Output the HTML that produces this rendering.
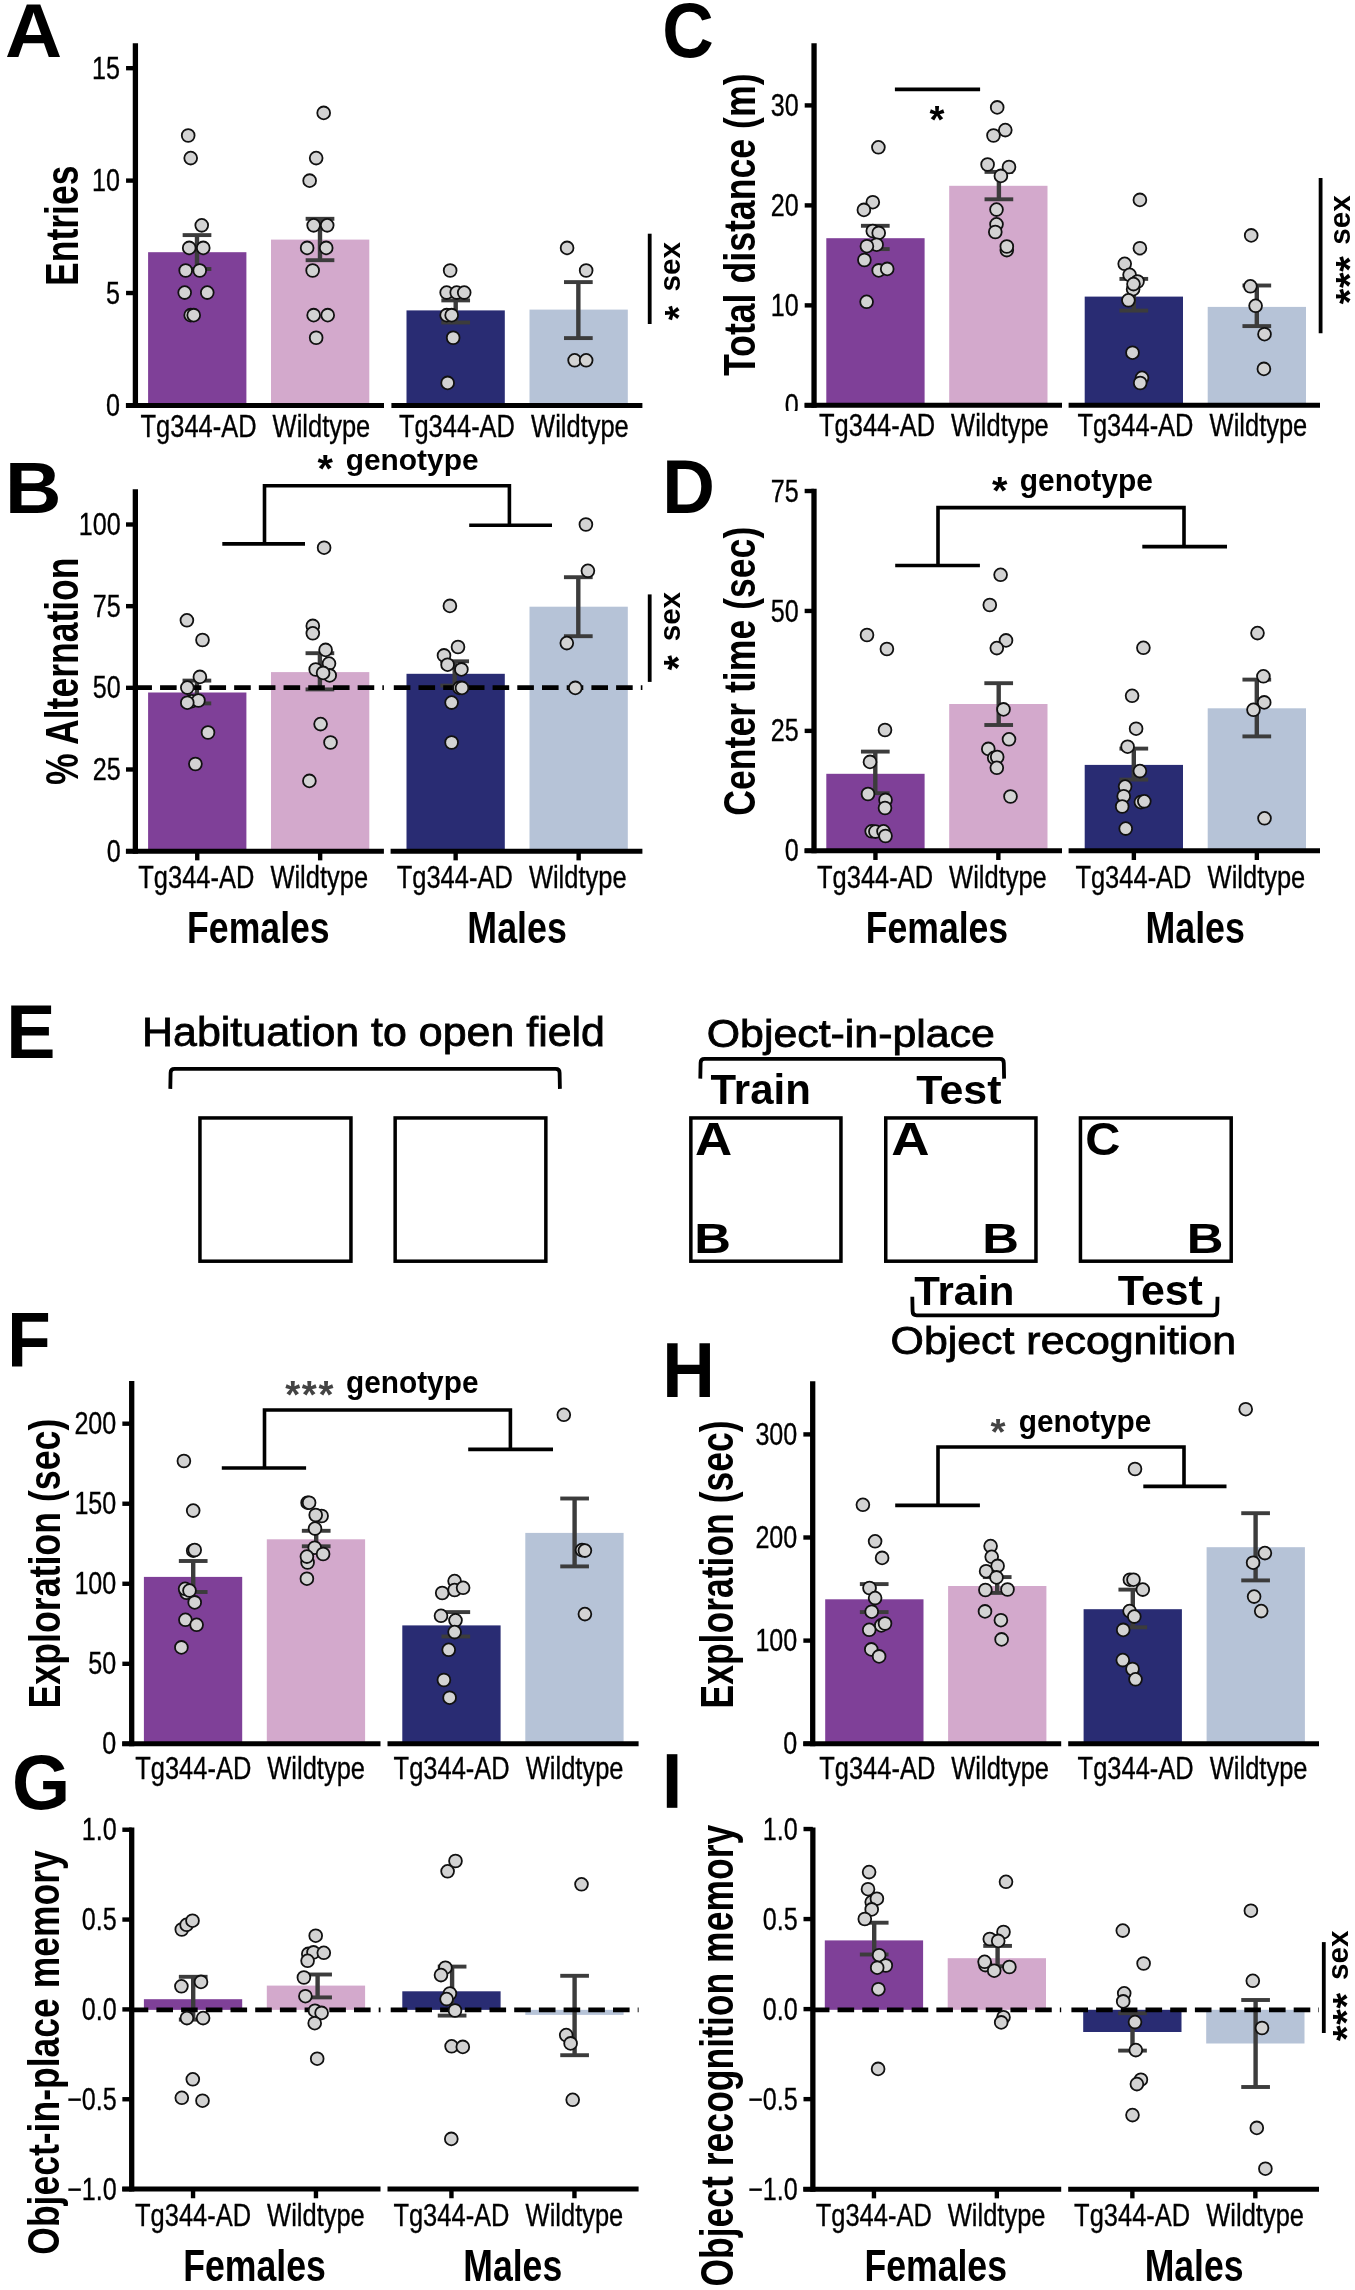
<!DOCTYPE html>
<html><head><meta charset="utf-8"><style>
html,body{margin:0;padding:0;background:#fff;}
svg{display:block;will-change:transform;font-family:"Liberation Sans", sans-serif;}
</style></head><body>
<svg width="1355" height="2290" viewBox="0 0 1355 2290">
<rect width="1355" height="2290" fill="#fff"/>
<rect x="148.1" y="252.2" width="98.3" height="153.25" fill="#7f4098"/>
<rect x="271" y="239.6" width="98.3" height="165.85" fill="#d3a9cc"/>
<rect x="406.5" y="310.4" width="98.3" height="95.05" fill="#292c73"/>
<rect x="529.5" y="309.6" width="98.3" height="95.85" fill="#b6c3d7"/>
<line x1="135.4" y1="43.2" x2="135.4" y2="407.95" stroke="#000" stroke-width="5.3" />
<line x1="125.9" y1="405.45" x2="384" y2="405.45" stroke="#000" stroke-width="5.0" />
<line x1="391.4" y1="405.45" x2="642.4" y2="405.45" stroke="#000" stroke-width="5.0" />
<line x1="126.05" y1="68.18" x2="135.4" y2="68.18" stroke="#000" stroke-width="4.4" />
<line x1="126.05" y1="180.6" x2="135.4" y2="180.6" stroke="#000" stroke-width="4.4" />
<line x1="126.05" y1="293.02" x2="135.4" y2="293.02" stroke="#000" stroke-width="4.4" />
<line x1="126.05" y1="405.45" x2="135.4" y2="405.45" stroke="#000" stroke-width="4.4" />
<line x1="197" y1="235.1" x2="197" y2="269" stroke="#3c3c3c" stroke-width="4.4" />
<line x1="182.65" y1="235.1" x2="211.35" y2="235.1" stroke="#3c3c3c" stroke-width="3.9" />
<line x1="182.65" y1="269" x2="211.35" y2="269" stroke="#3c3c3c" stroke-width="3.9" />
<line x1="320" y1="218.8" x2="320" y2="260.2" stroke="#3c3c3c" stroke-width="4.4" />
<line x1="305.65" y1="218.8" x2="334.35" y2="218.8" stroke="#3c3c3c" stroke-width="3.9" />
<line x1="305.65" y1="260.2" x2="334.35" y2="260.2" stroke="#3c3c3c" stroke-width="3.9" />
<line x1="455.7" y1="300.4" x2="455.7" y2="322.5" stroke="#3c3c3c" stroke-width="4.4" />
<line x1="441.35" y1="300.4" x2="470.05" y2="300.4" stroke="#3c3c3c" stroke-width="3.9" />
<line x1="441.35" y1="322.5" x2="470.05" y2="322.5" stroke="#3c3c3c" stroke-width="3.9" />
<line x1="578.35" y1="282.1" x2="578.35" y2="338.1" stroke="#3c3c3c" stroke-width="4.4" />
<line x1="564" y1="282.1" x2="592.7" y2="282.1" stroke="#3c3c3c" stroke-width="3.9" />
<line x1="564" y1="338.1" x2="592.7" y2="338.1" stroke="#3c3c3c" stroke-width="3.9" />
<circle cx="188.19" cy="135.5" r="6.4" fill="#d3d3d3" stroke="#111" stroke-width="1.8"/>
<circle cx="190.7" cy="158.08" r="6.4" fill="#d3d3d3" stroke="#111" stroke-width="1.8"/>
<circle cx="201.74" cy="225.33" r="6.4" fill="#d3d3d3" stroke="#111" stroke-width="1.8"/>
<circle cx="189.2" cy="247.91" r="6.4" fill="#d3d3d3" stroke="#111" stroke-width="1.8"/>
<circle cx="203.25" cy="247.91" r="6.4" fill="#d3d3d3" stroke="#111" stroke-width="1.8"/>
<circle cx="185.68" cy="270.49" r="6.4" fill="#d3d3d3" stroke="#111" stroke-width="1.8"/>
<circle cx="199.73" cy="270.49" r="6.4" fill="#d3d3d3" stroke="#111" stroke-width="1.8"/>
<circle cx="184.68" cy="292.58" r="6.4" fill="#d3d3d3" stroke="#111" stroke-width="1.8"/>
<circle cx="207.26" cy="292.58" r="6.4" fill="#d3d3d3" stroke="#111" stroke-width="1.8"/>
<circle cx="190.7" cy="315.16" r="6.4" fill="#d3d3d3" stroke="#111" stroke-width="1.8"/>
<circle cx="193.71" cy="315.16" r="6.4" fill="#d3d3d3" stroke="#111" stroke-width="1.8"/>
<circle cx="323.69" cy="112.92" r="6.4" fill="#d3d3d3" stroke="#111" stroke-width="1.8"/>
<circle cx="316.16" cy="158.08" r="6.4" fill="#d3d3d3" stroke="#111" stroke-width="1.8"/>
<circle cx="309.64" cy="180.66" r="6.4" fill="#d3d3d3" stroke="#111" stroke-width="1.8"/>
<circle cx="313.65" cy="225.33" r="6.4" fill="#d3d3d3" stroke="#111" stroke-width="1.8"/>
<circle cx="327.2" cy="225.33" r="6.4" fill="#d3d3d3" stroke="#111" stroke-width="1.8"/>
<circle cx="307.13" cy="247.91" r="6.4" fill="#d3d3d3" stroke="#111" stroke-width="1.8"/>
<circle cx="326.2" cy="247.91" r="6.4" fill="#d3d3d3" stroke="#111" stroke-width="1.8"/>
<circle cx="312.65" cy="270.49" r="6.4" fill="#d3d3d3" stroke="#111" stroke-width="1.8"/>
<circle cx="313.65" cy="315.16" r="6.4" fill="#d3d3d3" stroke="#111" stroke-width="1.8"/>
<circle cx="327.7" cy="315.16" r="6.4" fill="#d3d3d3" stroke="#111" stroke-width="1.8"/>
<circle cx="316.16" cy="337.74" r="6.4" fill="#d3d3d3" stroke="#111" stroke-width="1.8"/>
<circle cx="450.15" cy="270.49" r="6.4" fill="#d3d3d3" stroke="#111" stroke-width="1.8"/>
<circle cx="446.64" cy="292.58" r="6.4" fill="#d3d3d3" stroke="#111" stroke-width="1.8"/>
<circle cx="456.68" cy="292.58" r="6.4" fill="#d3d3d3" stroke="#111" stroke-width="1.8"/>
<circle cx="464.21" cy="292.58" r="6.4" fill="#d3d3d3" stroke="#111" stroke-width="1.8"/>
<circle cx="446.64" cy="315.16" r="6.4" fill="#d3d3d3" stroke="#111" stroke-width="1.8"/>
<circle cx="451.66" cy="315.16" r="6.4" fill="#d3d3d3" stroke="#111" stroke-width="1.8"/>
<circle cx="453.17" cy="337.74" r="6.4" fill="#d3d3d3" stroke="#111" stroke-width="1.8"/>
<circle cx="447.65" cy="382.91" r="6.4" fill="#d3d3d3" stroke="#111" stroke-width="1.8"/>
<circle cx="567.08" cy="247.91" r="6.4" fill="#d3d3d3" stroke="#111" stroke-width="1.8"/>
<circle cx="586.15" cy="270.49" r="6.4" fill="#d3d3d3" stroke="#111" stroke-width="1.8"/>
<circle cx="574.61" cy="360.32" r="6.4" fill="#d3d3d3" stroke="#111" stroke-width="1.8"/>
<circle cx="586.15" cy="360.32" r="6.4" fill="#d3d3d3" stroke="#111" stroke-width="1.8"/>
<text transform="translate(120,78.76) scale(0.7950,1)" font-size="31.60" font-weight="normal" text-anchor="end" fill="#000" stroke="#000" stroke-width="0.35">15</text>
<text transform="translate(120,191.19) scale(0.7950,1)" font-size="31.60" font-weight="normal" text-anchor="end" fill="#000" stroke="#000" stroke-width="0.35">10</text>
<text transform="translate(120,303.61) scale(0.7950,1)" font-size="31.60" font-weight="normal" text-anchor="end" fill="#000" stroke="#000" stroke-width="0.35">5</text>
<text transform="translate(120,416.04) scale(0.7950,1)" font-size="31.60" font-weight="normal" text-anchor="end" fill="#000" stroke="#000" stroke-width="0.35">0</text>
<text transform="translate(198.55,436.7) scale(0.8040,1)" font-size="31.70" font-weight="normal" text-anchor="middle" fill="#000" stroke="#000" stroke-width="0.35">Tg344-AD</text>
<text transform="translate(321.45,436.7) scale(0.8040,1)" font-size="31.70" font-weight="normal" text-anchor="middle" fill="#000" stroke="#000" stroke-width="0.35">Wildtype</text>
<text transform="translate(456.95,436.7) scale(0.8040,1)" font-size="31.70" font-weight="normal" text-anchor="middle" fill="#000" stroke="#000" stroke-width="0.35">Tg344-AD</text>
<text transform="translate(579.95,436.7) scale(0.8040,1)" font-size="31.70" font-weight="normal" text-anchor="middle" fill="#000" stroke="#000" stroke-width="0.35">Wildtype</text>
<text transform="translate(5.02,57) scale(1.0299,1)" font-size="76.81" font-weight="bold" fill="#000" >A</text>
<text transform="translate(78,285.91) rotate(-90) scale(0.7800,1)" font-size="45.51" font-weight="bold" fill="#000" >Entries</text>
<line x1="649.7" y1="233.7" x2="649.7" y2="324" stroke="#000" stroke-width="3.8" />
<rect x="826.3" y="238.2" width="98.3" height="167.15" fill="#7f4098"/>
<rect x="949.2" y="185.8" width="98.3" height="219.55" fill="#d3a9cc"/>
<rect x="1084.7" y="296.6" width="98.3" height="108.75" fill="#292c73"/>
<rect x="1207.7" y="306.9" width="98.3" height="98.45" fill="#b6c3d7"/>
<line x1="814.05" y1="43.2" x2="814.05" y2="407.85" stroke="#000" stroke-width="5.3" />
<line x1="804.6" y1="405.35" x2="1062" y2="405.35" stroke="#000" stroke-width="5.0" />
<line x1="1068.6" y1="405.35" x2="1320" y2="405.35" stroke="#000" stroke-width="5.0" />
<line x1="804.7" y1="105.41" x2="814.05" y2="105.41" stroke="#000" stroke-width="4.4" />
<line x1="804.7" y1="205.39" x2="814.05" y2="205.39" stroke="#000" stroke-width="4.4" />
<line x1="804.7" y1="305.37" x2="814.05" y2="305.37" stroke="#000" stroke-width="4.4" />
<line x1="804.7" y1="405.35" x2="814.05" y2="405.35" stroke="#000" stroke-width="4.4" />
<line x1="875.3" y1="225.8" x2="875.3" y2="249.1" stroke="#3c3c3c" stroke-width="4.4" />
<line x1="860.95" y1="225.8" x2="889.65" y2="225.8" stroke="#3c3c3c" stroke-width="3.9" />
<line x1="860.95" y1="249.1" x2="889.65" y2="249.1" stroke="#3c3c3c" stroke-width="3.9" />
<line x1="998.9" y1="171.9" x2="998.9" y2="199.3" stroke="#3c3c3c" stroke-width="4.4" />
<line x1="984.55" y1="171.9" x2="1013.25" y2="171.9" stroke="#3c3c3c" stroke-width="3.9" />
<line x1="984.55" y1="199.3" x2="1013.25" y2="199.3" stroke="#3c3c3c" stroke-width="3.9" />
<line x1="1133.8" y1="278.9" x2="1133.8" y2="310.6" stroke="#3c3c3c" stroke-width="4.4" />
<line x1="1119.45" y1="278.9" x2="1148.15" y2="278.9" stroke="#3c3c3c" stroke-width="3.9" />
<line x1="1119.45" y1="310.6" x2="1148.15" y2="310.6" stroke="#3c3c3c" stroke-width="3.9" />
<line x1="1256.8" y1="285.5" x2="1256.8" y2="326.1" stroke="#3c3c3c" stroke-width="4.4" />
<line x1="1242.45" y1="285.5" x2="1271.15" y2="285.5" stroke="#3c3c3c" stroke-width="3.9" />
<line x1="1242.45" y1="326.1" x2="1271.15" y2="326.1" stroke="#3c3c3c" stroke-width="3.9" />
<circle cx="878.4" cy="147.3" r="6.4" fill="#d3d3d3" stroke="#111" stroke-width="1.8"/>
<circle cx="872.8" cy="202.2" r="6.4" fill="#d3d3d3" stroke="#111" stroke-width="1.8"/>
<circle cx="863.9" cy="209.9" r="6.4" fill="#d3d3d3" stroke="#111" stroke-width="1.8"/>
<circle cx="872.8" cy="231" r="6.4" fill="#d3d3d3" stroke="#111" stroke-width="1.8"/>
<circle cx="878.7" cy="232.9" r="6.4" fill="#d3d3d3" stroke="#111" stroke-width="1.8"/>
<circle cx="876.6" cy="244.7" r="6.4" fill="#d3d3d3" stroke="#111" stroke-width="1.8"/>
<circle cx="866.9" cy="246.2" r="6.4" fill="#d3d3d3" stroke="#111" stroke-width="1.8"/>
<circle cx="864.4" cy="260" r="6.4" fill="#d3d3d3" stroke="#111" stroke-width="1.8"/>
<circle cx="878.7" cy="270.4" r="6.4" fill="#d3d3d3" stroke="#111" stroke-width="1.8"/>
<circle cx="887.2" cy="268.9" r="6.4" fill="#d3d3d3" stroke="#111" stroke-width="1.8"/>
<circle cx="866.6" cy="301.8" r="6.4" fill="#d3d3d3" stroke="#111" stroke-width="1.8"/>
<circle cx="997.2" cy="107.4" r="6.4" fill="#d3d3d3" stroke="#111" stroke-width="1.8"/>
<circle cx="1005.3" cy="130.1" r="6.4" fill="#d3d3d3" stroke="#111" stroke-width="1.8"/>
<circle cx="993.5" cy="135.5" r="6.4" fill="#d3d3d3" stroke="#111" stroke-width="1.8"/>
<circle cx="987.6" cy="164.5" r="6.4" fill="#d3d3d3" stroke="#111" stroke-width="1.8"/>
<circle cx="1009" cy="167" r="6.4" fill="#d3d3d3" stroke="#111" stroke-width="1.8"/>
<circle cx="1000.9" cy="175.9" r="6.4" fill="#d3d3d3" stroke="#111" stroke-width="1.8"/>
<circle cx="996.5" cy="209.6" r="6.4" fill="#d3d3d3" stroke="#111" stroke-width="1.8"/>
<circle cx="996.5" cy="224.3" r="6.4" fill="#d3d3d3" stroke="#111" stroke-width="1.8"/>
<circle cx="995.3" cy="232" r="6.4" fill="#d3d3d3" stroke="#111" stroke-width="1.8"/>
<circle cx="1006.8" cy="250.1" r="6.4" fill="#d3d3d3" stroke="#111" stroke-width="1.8"/>
<circle cx="1006.8" cy="246.5" r="6.4" fill="#d3d3d3" stroke="#111" stroke-width="1.8"/>
<circle cx="1139.9" cy="199.9" r="6.4" fill="#d3d3d3" stroke="#111" stroke-width="1.8"/>
<circle cx="1139.9" cy="248.2" r="6.4" fill="#d3d3d3" stroke="#111" stroke-width="1.8"/>
<circle cx="1124.7" cy="263.8" r="6.4" fill="#d3d3d3" stroke="#111" stroke-width="1.8"/>
<circle cx="1129.6" cy="274.8" r="6.4" fill="#d3d3d3" stroke="#111" stroke-width="1.8"/>
<circle cx="1137.5" cy="281.5" r="6.4" fill="#d3d3d3" stroke="#111" stroke-width="1.8"/>
<circle cx="1133.1" cy="289.2" r="6.4" fill="#d3d3d3" stroke="#111" stroke-width="1.8"/>
<circle cx="1133.5" cy="284.1" r="6.4" fill="#d3d3d3" stroke="#111" stroke-width="1.8"/>
<circle cx="1128.4" cy="300.3" r="6.4" fill="#d3d3d3" stroke="#111" stroke-width="1.8"/>
<circle cx="1132.5" cy="352.7" r="6.4" fill="#d3d3d3" stroke="#111" stroke-width="1.8"/>
<circle cx="1142" cy="377.8" r="6.4" fill="#d3d3d3" stroke="#111" stroke-width="1.8"/>
<circle cx="1140.2" cy="383" r="6.4" fill="#d3d3d3" stroke="#111" stroke-width="1.8"/>
<circle cx="1251.2" cy="235.4" r="6.4" fill="#d3d3d3" stroke="#111" stroke-width="1.8"/>
<circle cx="1250.4" cy="286.3" r="6.4" fill="#d3d3d3" stroke="#111" stroke-width="1.8"/>
<circle cx="1255.6" cy="305.8" r="6.4" fill="#d3d3d3" stroke="#111" stroke-width="1.8"/>
<circle cx="1264.5" cy="334.2" r="6.4" fill="#d3d3d3" stroke="#111" stroke-width="1.8"/>
<circle cx="1263.9" cy="368.9" r="6.4" fill="#d3d3d3" stroke="#111" stroke-width="1.8"/>
<text transform="translate(798.7,116) scale(0.7950,1)" font-size="31.60" font-weight="normal" text-anchor="end" fill="#000" stroke="#000" stroke-width="0.35">30</text>
<text transform="translate(798.7,215.98) scale(0.7950,1)" font-size="31.60" font-weight="normal" text-anchor="end" fill="#000" stroke="#000" stroke-width="0.35">20</text>
<text transform="translate(798.7,315.96) scale(0.7950,1)" font-size="31.60" font-weight="normal" text-anchor="end" fill="#000" stroke="#000" stroke-width="0.35">10</text>
<text transform="translate(798.7,415.94) scale(0.7950,1)" font-size="31.60" font-weight="normal" text-anchor="end" fill="#000" stroke="#000" stroke-width="0.35">0</text>
<text transform="translate(877.05,436.25) scale(0.8040,1)" font-size="31.70" font-weight="normal" text-anchor="middle" fill="#000" stroke="#000" stroke-width="0.35">Tg344-AD</text>
<text transform="translate(999.95,436.25) scale(0.8040,1)" font-size="31.70" font-weight="normal" text-anchor="middle" fill="#000" stroke="#000" stroke-width="0.35">Wildtype</text>
<text transform="translate(1135.45,436.25) scale(0.8040,1)" font-size="31.70" font-weight="normal" text-anchor="middle" fill="#000" stroke="#000" stroke-width="0.35">Tg344-AD</text>
<text transform="translate(1258.45,436.25) scale(0.8040,1)" font-size="31.70" font-weight="normal" text-anchor="middle" fill="#000" stroke="#000" stroke-width="0.35">Wildtype</text>
<rect x="765" y="411" width="37" height="9" fill="#fff"/>
<text transform="translate(662.15,57.23) scale(0.9204,1)" font-size="77.46" font-weight="bold" fill="#000" >C</text>
<text transform="translate(755.3,376.06) rotate(-90) scale(0.7893,1)" font-size="45.22" font-weight="bold" fill="#000" >Total distance (m)</text>
<line x1="894.9" y1="89.4" x2="980.1" y2="89.4" stroke="#000" stroke-width="3.8" />
<line x1="1320.6" y1="178" x2="1320.6" y2="333.2" stroke="#000" stroke-width="3.8" />
<rect x="148.1" y="692.5" width="98.3" height="158.65" fill="#7f4098"/>
<rect x="271" y="672.1" width="98.3" height="179.05" fill="#d3a9cc"/>
<rect x="406.5" y="673.8" width="98.3" height="177.35" fill="#292c73"/>
<rect x="529.5" y="606.7" width="98.3" height="244.45" fill="#b6c3d7"/>
<line x1="135.35" y1="489.3" x2="135.35" y2="853.65" stroke="#000" stroke-width="5.3" />
<line x1="125.9" y1="851.15" x2="383.9" y2="851.15" stroke="#000" stroke-width="5.0" />
<line x1="390.6" y1="851.15" x2="642.4" y2="851.15" stroke="#000" stroke-width="5.0" />
<line x1="126" y1="524.5" x2="135.35" y2="524.5" stroke="#000" stroke-width="4.4" />
<line x1="126" y1="606.16" x2="135.35" y2="606.16" stroke="#000" stroke-width="4.4" />
<line x1="126" y1="687.82" x2="135.35" y2="687.82" stroke="#000" stroke-width="4.4" />
<line x1="126" y1="769.49" x2="135.35" y2="769.49" stroke="#000" stroke-width="4.4" />
<line x1="126" y1="851.15" x2="135.35" y2="851.15" stroke="#000" stroke-width="4.4" />
<line x1="197.25" y1="851.15" x2="197.25" y2="860.35" stroke="#000" stroke-width="4.4" />
<line x1="320.15" y1="851.15" x2="320.15" y2="860.35" stroke="#000" stroke-width="4.4" />
<line x1="455.65" y1="851.15" x2="455.65" y2="860.35" stroke="#000" stroke-width="4.4" />
<line x1="578.65" y1="851.15" x2="578.65" y2="860.35" stroke="#000" stroke-width="4.4" />
<line x1="196.9" y1="680.6" x2="196.9" y2="703.4" stroke="#3c3c3c" stroke-width="4.4" />
<line x1="182.55" y1="680.6" x2="211.25" y2="680.6" stroke="#3c3c3c" stroke-width="3.9" />
<line x1="182.55" y1="703.4" x2="211.25" y2="703.4" stroke="#3c3c3c" stroke-width="3.9" />
<line x1="319.9" y1="653.2" x2="319.9" y2="689.4" stroke="#3c3c3c" stroke-width="4.4" />
<line x1="305.55" y1="653.2" x2="334.25" y2="653.2" stroke="#3c3c3c" stroke-width="3.9" />
<line x1="305.55" y1="689.4" x2="334.25" y2="689.4" stroke="#3c3c3c" stroke-width="3.9" />
<line x1="454.7" y1="661.3" x2="454.7" y2="685.6" stroke="#3c3c3c" stroke-width="4.4" />
<line x1="440.35" y1="661.3" x2="469.05" y2="661.3" stroke="#3c3c3c" stroke-width="3.9" />
<line x1="440.35" y1="685.6" x2="469.05" y2="685.6" stroke="#3c3c3c" stroke-width="3.9" />
<line x1="578.3" y1="577.2" x2="578.3" y2="636.2" stroke="#3c3c3c" stroke-width="4.4" />
<line x1="563.95" y1="577.2" x2="592.65" y2="577.2" stroke="#3c3c3c" stroke-width="3.9" />
<line x1="563.95" y1="636.2" x2="592.65" y2="636.2" stroke="#3c3c3c" stroke-width="3.9" />
<line x1="135.35" y1="687.6" x2="383.9" y2="687.6" stroke="#000" stroke-width="4.8" stroke-dasharray="16.6 8.1"/>
<line x1="393.8" y1="687.6" x2="642.4" y2="687.6" stroke="#000" stroke-width="4.8" stroke-dasharray="16.6 8.1"/>
<circle cx="186.9" cy="620.3" r="6.4" fill="#d3d3d3" stroke="#111" stroke-width="1.8"/>
<circle cx="202.5" cy="640" r="6.4" fill="#d3d3d3" stroke="#111" stroke-width="1.8"/>
<circle cx="199.9" cy="676.9" r="6.4" fill="#d3d3d3" stroke="#111" stroke-width="1.8"/>
<circle cx="187.3" cy="687.6" r="6.4" fill="#d3d3d3" stroke="#111" stroke-width="1.8"/>
<circle cx="191.7" cy="701.2" r="6.4" fill="#d3d3d3" stroke="#111" stroke-width="1.8"/>
<circle cx="198.4" cy="700.5" r="6.4" fill="#d3d3d3" stroke="#111" stroke-width="1.8"/>
<circle cx="187.3" cy="702.7" r="6.4" fill="#d3d3d3" stroke="#111" stroke-width="1.8"/>
<circle cx="208" cy="732.5" r="6.4" fill="#d3d3d3" stroke="#111" stroke-width="1.8"/>
<circle cx="195.4" cy="764" r="6.4" fill="#d3d3d3" stroke="#111" stroke-width="1.8"/>
<circle cx="324.1" cy="547.7" r="6.4" fill="#d3d3d3" stroke="#111" stroke-width="1.8"/>
<circle cx="312.8" cy="625.9" r="6.4" fill="#d3d3d3" stroke="#111" stroke-width="1.8"/>
<circle cx="312.8" cy="633.3" r="6.4" fill="#d3d3d3" stroke="#111" stroke-width="1.8"/>
<circle cx="325.6" cy="649.9" r="6.4" fill="#d3d3d3" stroke="#111" stroke-width="1.8"/>
<circle cx="329" cy="663.6" r="6.4" fill="#d3d3d3" stroke="#111" stroke-width="1.8"/>
<circle cx="315.7" cy="669.5" r="6.4" fill="#d3d3d3" stroke="#111" stroke-width="1.8"/>
<circle cx="329.7" cy="675.4" r="6.4" fill="#d3d3d3" stroke="#111" stroke-width="1.8"/>
<circle cx="323.1" cy="672.9" r="6.4" fill="#d3d3d3" stroke="#111" stroke-width="1.8"/>
<circle cx="320.6" cy="724.1" r="6.4" fill="#d3d3d3" stroke="#111" stroke-width="1.8"/>
<circle cx="330.5" cy="742.5" r="6.4" fill="#d3d3d3" stroke="#111" stroke-width="1.8"/>
<circle cx="309.4" cy="780.9" r="6.4" fill="#d3d3d3" stroke="#111" stroke-width="1.8"/>
<circle cx="449.9" cy="605.9" r="6.4" fill="#d3d3d3" stroke="#111" stroke-width="1.8"/>
<circle cx="458" cy="647" r="6.4" fill="#d3d3d3" stroke="#111" stroke-width="1.8"/>
<circle cx="444" cy="655.4" r="6.4" fill="#d3d3d3" stroke="#111" stroke-width="1.8"/>
<circle cx="447.6" cy="664.7" r="6.4" fill="#d3d3d3" stroke="#111" stroke-width="1.8"/>
<circle cx="461.4" cy="669.4" r="6.4" fill="#d3d3d3" stroke="#111" stroke-width="1.8"/>
<circle cx="459.5" cy="687.9" r="6.4" fill="#d3d3d3" stroke="#111" stroke-width="1.8"/>
<circle cx="462" cy="687.9" r="6.4" fill="#d3d3d3" stroke="#111" stroke-width="1.8"/>
<circle cx="451.6" cy="702.6" r="6.4" fill="#d3d3d3" stroke="#111" stroke-width="1.8"/>
<circle cx="451.6" cy="742.5" r="6.4" fill="#d3d3d3" stroke="#111" stroke-width="1.8"/>
<circle cx="585.9" cy="524.5" r="6.4" fill="#d3d3d3" stroke="#111" stroke-width="1.8"/>
<circle cx="587.9" cy="570.8" r="6.4" fill="#d3d3d3" stroke="#111" stroke-width="1.8"/>
<circle cx="566.8" cy="643.1" r="6.4" fill="#d3d3d3" stroke="#111" stroke-width="1.8"/>
<circle cx="575.3" cy="687.9" r="6.4" fill="#d3d3d3" stroke="#111" stroke-width="1.8"/>
<text transform="translate(120.7,535.09) scale(0.7950,1)" font-size="31.60" font-weight="normal" text-anchor="end" fill="#000" stroke="#000" stroke-width="0.35">100</text>
<text transform="translate(120.7,616.75) scale(0.7950,1)" font-size="31.60" font-weight="normal" text-anchor="end" fill="#000" stroke="#000" stroke-width="0.35">75</text>
<text transform="translate(120.7,698.41) scale(0.7950,1)" font-size="31.60" font-weight="normal" text-anchor="end" fill="#000" stroke="#000" stroke-width="0.35">50</text>
<text transform="translate(120.7,780.07) scale(0.7950,1)" font-size="31.60" font-weight="normal" text-anchor="end" fill="#000" stroke="#000" stroke-width="0.35">25</text>
<text transform="translate(120.7,861.74) scale(0.7950,1)" font-size="31.60" font-weight="normal" text-anchor="end" fill="#000" stroke="#000" stroke-width="0.35">0</text>
<text transform="translate(196.35,888) scale(0.8040,1)" font-size="31.70" font-weight="normal" text-anchor="middle" fill="#000" stroke="#000" stroke-width="0.35">Tg344-AD</text>
<text transform="translate(319.25,888) scale(0.8040,1)" font-size="31.70" font-weight="normal" text-anchor="middle" fill="#000" stroke="#000" stroke-width="0.35">Wildtype</text>
<text transform="translate(454.75,888) scale(0.8040,1)" font-size="31.70" font-weight="normal" text-anchor="middle" fill="#000" stroke="#000" stroke-width="0.35">Tg344-AD</text>
<text transform="translate(577.75,888) scale(0.8040,1)" font-size="31.70" font-weight="normal" text-anchor="middle" fill="#000" stroke="#000" stroke-width="0.35">Wildtype</text>
<text transform="translate(4.92,512.8) scale(1.0748,1)" font-size="72.75" font-weight="bold" fill="#000" >B</text>
<text transform="translate(77.7,784.99) rotate(-90) scale(0.7778,1)" font-size="45.65" font-weight="bold" fill="#000" >% Alternation</text>
<polyline points="222.3,543.9 305,543.9" fill="none" stroke="#000" stroke-width="3.6" stroke-linejoin="miter" stroke-linecap="butt"/>
<polyline points="264.5,543.9 264.5,485.8 509.4,485.8 509.4,525.3" fill="none" stroke="#000" stroke-width="3.6" stroke-linejoin="miter" stroke-linecap="butt"/>
<polyline points="469.2,525.3 552,525.3" fill="none" stroke="#000" stroke-width="3.6" stroke-linejoin="miter" stroke-linecap="butt"/>
<line x1="649.7" y1="594.4" x2="649.7" y2="681.9" stroke="#000" stroke-width="3.8" />
<text transform="translate(187.08,942.8) scale(0.8009,1)" font-size="44.49" font-weight="bold" fill="#000" >Females</text>
<text transform="translate(467.37,943.3) scale(0.7912,1)" font-size="45.22" font-weight="bold" fill="#000" >Males</text>
<rect x="826.3" y="773.8" width="98.3" height="77" fill="#7f4098"/>
<rect x="949.2" y="704" width="98.3" height="146.8" fill="#d3a9cc"/>
<rect x="1084.7" y="764.9" width="98.3" height="85.9" fill="#292c73"/>
<rect x="1207.7" y="708.3" width="98.3" height="142.5" fill="#b6c3d7"/>
<line x1="814" y1="488.7" x2="814" y2="853.3" stroke="#000" stroke-width="5.3" />
<line x1="804.6" y1="850.8" x2="1062" y2="850.8" stroke="#000" stroke-width="5.0" />
<line x1="1068.6" y1="850.8" x2="1320" y2="850.8" stroke="#000" stroke-width="5.0" />
<line x1="804.65" y1="491.02" x2="814" y2="491.02" stroke="#000" stroke-width="4.4" />
<line x1="804.65" y1="610.95" x2="814" y2="610.95" stroke="#000" stroke-width="4.4" />
<line x1="804.65" y1="730.88" x2="814" y2="730.88" stroke="#000" stroke-width="4.4" />
<line x1="804.65" y1="850.8" x2="814" y2="850.8" stroke="#000" stroke-width="4.4" />
<line x1="875.45" y1="850.8" x2="875.45" y2="860" stroke="#000" stroke-width="4.4" />
<line x1="998.35" y1="850.8" x2="998.35" y2="860" stroke="#000" stroke-width="4.4" />
<line x1="1133.85" y1="850.8" x2="1133.85" y2="860" stroke="#000" stroke-width="4.4" />
<line x1="1256.85" y1="850.8" x2="1256.85" y2="860" stroke="#000" stroke-width="4.4" />
<line x1="875.3" y1="751.6" x2="875.3" y2="793.2" stroke="#3c3c3c" stroke-width="4.4" />
<line x1="860.95" y1="751.6" x2="889.65" y2="751.6" stroke="#3c3c3c" stroke-width="3.9" />
<line x1="860.95" y1="793.2" x2="889.65" y2="793.2" stroke="#3c3c3c" stroke-width="3.9" />
<line x1="998.7" y1="683.2" x2="998.7" y2="725" stroke="#3c3c3c" stroke-width="4.4" />
<line x1="984.35" y1="683.2" x2="1013.05" y2="683.2" stroke="#3c3c3c" stroke-width="3.9" />
<line x1="984.35" y1="725" x2="1013.05" y2="725" stroke="#3c3c3c" stroke-width="3.9" />
<line x1="1133.8" y1="748.6" x2="1133.8" y2="779.6" stroke="#3c3c3c" stroke-width="4.4" />
<line x1="1119.45" y1="748.6" x2="1148.15" y2="748.6" stroke="#3c3c3c" stroke-width="3.9" />
<line x1="1119.45" y1="779.6" x2="1148.15" y2="779.6" stroke="#3c3c3c" stroke-width="3.9" />
<line x1="1256.8" y1="679.6" x2="1256.8" y2="736.4" stroke="#3c3c3c" stroke-width="4.4" />
<line x1="1242.45" y1="679.6" x2="1271.15" y2="679.6" stroke="#3c3c3c" stroke-width="3.9" />
<line x1="1242.45" y1="736.4" x2="1271.15" y2="736.4" stroke="#3c3c3c" stroke-width="3.9" />
<circle cx="867" cy="635" r="6.4" fill="#d3d3d3" stroke="#111" stroke-width="1.8"/>
<circle cx="886.9" cy="649" r="6.4" fill="#d3d3d3" stroke="#111" stroke-width="1.8"/>
<circle cx="885" cy="730" r="6.4" fill="#d3d3d3" stroke="#111" stroke-width="1.8"/>
<circle cx="870" cy="761.9" r="6.4" fill="#d3d3d3" stroke="#111" stroke-width="1.8"/>
<circle cx="868" cy="794" r="6.4" fill="#d3d3d3" stroke="#111" stroke-width="1.8"/>
<circle cx="885.5" cy="799.9" r="6.4" fill="#d3d3d3" stroke="#111" stroke-width="1.8"/>
<circle cx="885" cy="808" r="6.4" fill="#d3d3d3" stroke="#111" stroke-width="1.8"/>
<circle cx="871.7" cy="831.3" r="6.4" fill="#d3d3d3" stroke="#111" stroke-width="1.8"/>
<circle cx="875.4" cy="831.6" r="6.4" fill="#d3d3d3" stroke="#111" stroke-width="1.8"/>
<circle cx="883.5" cy="831.3" r="6.4" fill="#d3d3d3" stroke="#111" stroke-width="1.8"/>
<circle cx="885.5" cy="836" r="6.4" fill="#d3d3d3" stroke="#111" stroke-width="1.8"/>
<circle cx="1000.6" cy="574.8" r="6.4" fill="#d3d3d3" stroke="#111" stroke-width="1.8"/>
<circle cx="989.8" cy="605" r="6.4" fill="#d3d3d3" stroke="#111" stroke-width="1.8"/>
<circle cx="1006" cy="640.4" r="6.4" fill="#d3d3d3" stroke="#111" stroke-width="1.8"/>
<circle cx="996.8" cy="648.1" r="6.4" fill="#d3d3d3" stroke="#111" stroke-width="1.8"/>
<circle cx="1003.5" cy="709.4" r="6.4" fill="#d3d3d3" stroke="#111" stroke-width="1.8"/>
<circle cx="1009" cy="739.3" r="6.4" fill="#d3d3d3" stroke="#111" stroke-width="1.8"/>
<circle cx="988.3" cy="748.9" r="6.4" fill="#d3d3d3" stroke="#111" stroke-width="1.8"/>
<circle cx="994.2" cy="757.8" r="6.4" fill="#d3d3d3" stroke="#111" stroke-width="1.8"/>
<circle cx="997.2" cy="757" r="6.4" fill="#d3d3d3" stroke="#111" stroke-width="1.8"/>
<circle cx="996.8" cy="767.8" r="6.4" fill="#d3d3d3" stroke="#111" stroke-width="1.8"/>
<circle cx="1010.5" cy="796.5" r="6.4" fill="#d3d3d3" stroke="#111" stroke-width="1.8"/>
<circle cx="1143.4" cy="647.8" r="6.4" fill="#d3d3d3" stroke="#111" stroke-width="1.8"/>
<circle cx="1132.1" cy="695.8" r="6.4" fill="#d3d3d3" stroke="#111" stroke-width="1.8"/>
<circle cx="1136.1" cy="728.7" r="6.4" fill="#d3d3d3" stroke="#111" stroke-width="1.8"/>
<circle cx="1127.6" cy="746.7" r="6.4" fill="#d3d3d3" stroke="#111" stroke-width="1.8"/>
<circle cx="1139.9" cy="771.1" r="6.4" fill="#d3d3d3" stroke="#111" stroke-width="1.8"/>
<circle cx="1125.1" cy="786.6" r="6.4" fill="#d3d3d3" stroke="#111" stroke-width="1.8"/>
<circle cx="1123.7" cy="796.2" r="6.4" fill="#d3d3d3" stroke="#111" stroke-width="1.8"/>
<circle cx="1122.2" cy="806.5" r="6.4" fill="#d3d3d3" stroke="#111" stroke-width="1.8"/>
<circle cx="1140.9" cy="802.1" r="6.4" fill="#d3d3d3" stroke="#111" stroke-width="1.8"/>
<circle cx="1144.3" cy="801.3" r="6.4" fill="#d3d3d3" stroke="#111" stroke-width="1.8"/>
<circle cx="1125.7" cy="828.6" r="6.4" fill="#d3d3d3" stroke="#111" stroke-width="1.8"/>
<circle cx="1257.5" cy="633.1" r="6.4" fill="#d3d3d3" stroke="#111" stroke-width="1.8"/>
<circle cx="1263.4" cy="676.3" r="6.4" fill="#d3d3d3" stroke="#111" stroke-width="1.8"/>
<circle cx="1264.2" cy="702.4" r="6.4" fill="#d3d3d3" stroke="#111" stroke-width="1.8"/>
<circle cx="1253.5" cy="709.8" r="6.4" fill="#d3d3d3" stroke="#111" stroke-width="1.8"/>
<circle cx="1264.5" cy="818.3" r="6.4" fill="#d3d3d3" stroke="#111" stroke-width="1.8"/>
<text transform="translate(798.8,501.61) scale(0.7950,1)" font-size="31.60" font-weight="normal" text-anchor="end" fill="#000" stroke="#000" stroke-width="0.35">75</text>
<text transform="translate(798.8,621.54) scale(0.7950,1)" font-size="31.60" font-weight="normal" text-anchor="end" fill="#000" stroke="#000" stroke-width="0.35">50</text>
<text transform="translate(798.8,741.46) scale(0.7950,1)" font-size="31.60" font-weight="normal" text-anchor="end" fill="#000" stroke="#000" stroke-width="0.35">25</text>
<text transform="translate(798.8,861.39) scale(0.7950,1)" font-size="31.60" font-weight="normal" text-anchor="end" fill="#000" stroke="#000" stroke-width="0.35">0</text>
<text transform="translate(875.05,887.8) scale(0.8040,1)" font-size="31.70" font-weight="normal" text-anchor="middle" fill="#000" stroke="#000" stroke-width="0.35">Tg344-AD</text>
<text transform="translate(997.95,887.8) scale(0.8040,1)" font-size="31.70" font-weight="normal" text-anchor="middle" fill="#000" stroke="#000" stroke-width="0.35">Wildtype</text>
<text transform="translate(1133.45,887.8) scale(0.8040,1)" font-size="31.70" font-weight="normal" text-anchor="middle" fill="#000" stroke="#000" stroke-width="0.35">Tg344-AD</text>
<text transform="translate(1256.45,887.8) scale(0.8040,1)" font-size="31.70" font-weight="normal" text-anchor="middle" fill="#000" stroke="#000" stroke-width="0.35">Wildtype</text>
<text transform="translate(662.27,513) scale(0.9484,1)" font-size="76.81" font-weight="bold" fill="#000" >D</text>
<text transform="translate(755.2,815.73) rotate(-90) scale(0.7907,1)" font-size="45.07" font-weight="bold" fill="#000" >Center time (sec)</text>
<polyline points="895.2,565.5 979.9,565.5" fill="none" stroke="#000" stroke-width="3.6" stroke-linejoin="miter" stroke-linecap="butt"/>
<polyline points="938,565.5 938,507.6 1184,507.6 1184,546.6" fill="none" stroke="#000" stroke-width="3.6" stroke-linejoin="miter" stroke-linecap="butt"/>
<polyline points="1142.3,546.6 1227,546.6" fill="none" stroke="#000" stroke-width="3.6" stroke-linejoin="miter" stroke-linecap="butt"/>
<text transform="translate(865.69,942.6) scale(0.8003,1)" font-size="44.49" font-weight="bold" fill="#000" >Females</text>
<text transform="translate(1145.47,943) scale(0.7963,1)" font-size="44.93" font-weight="bold" fill="#000" >Males</text>
<rect x="143.9" y="1576.9" width="98.3" height="166.95" fill="#7f4098"/>
<rect x="266.8" y="1539.3" width="98.3" height="204.55" fill="#d3a9cc"/>
<rect x="402.3" y="1625.4" width="98.3" height="118.45" fill="#292c73"/>
<rect x="525.3" y="1532.9" width="98.3" height="210.95" fill="#b6c3d7"/>
<line x1="131.7" y1="1380.9" x2="131.7" y2="1746.35" stroke="#000" stroke-width="5.3" />
<line x1="122.2" y1="1743.85" x2="380.5" y2="1743.85" stroke="#000" stroke-width="5.0" />
<line x1="387.5" y1="1743.85" x2="638.6" y2="1743.85" stroke="#000" stroke-width="5.0" />
<line x1="122.35" y1="1423.69" x2="131.7" y2="1423.69" stroke="#000" stroke-width="4.4" />
<line x1="122.35" y1="1503.73" x2="131.7" y2="1503.73" stroke="#000" stroke-width="4.4" />
<line x1="122.35" y1="1583.77" x2="131.7" y2="1583.77" stroke="#000" stroke-width="4.4" />
<line x1="122.35" y1="1663.81" x2="131.7" y2="1663.81" stroke="#000" stroke-width="4.4" />
<line x1="122.35" y1="1743.85" x2="131.7" y2="1743.85" stroke="#000" stroke-width="4.4" />
<line x1="193.2" y1="1561" x2="193.2" y2="1592" stroke="#3c3c3c" stroke-width="4.4" />
<line x1="178.85" y1="1561" x2="207.55" y2="1561" stroke="#3c3c3c" stroke-width="3.9" />
<line x1="178.85" y1="1592" x2="207.55" y2="1592" stroke="#3c3c3c" stroke-width="3.9" />
<line x1="316.2" y1="1530.8" x2="316.2" y2="1546.3" stroke="#3c3c3c" stroke-width="4.4" />
<line x1="301.85" y1="1530.8" x2="330.55" y2="1530.8" stroke="#3c3c3c" stroke-width="3.9" />
<line x1="301.85" y1="1546.3" x2="330.55" y2="1546.3" stroke="#3c3c3c" stroke-width="3.9" />
<line x1="455.8" y1="1612.1" x2="455.8" y2="1636.5" stroke="#3c3c3c" stroke-width="4.4" />
<line x1="441.45" y1="1612.1" x2="470.15" y2="1612.1" stroke="#3c3c3c" stroke-width="3.9" />
<line x1="441.45" y1="1636.5" x2="470.15" y2="1636.5" stroke="#3c3c3c" stroke-width="3.9" />
<line x1="574.6" y1="1498.5" x2="574.6" y2="1566.4" stroke="#3c3c3c" stroke-width="4.4" />
<line x1="560.25" y1="1498.5" x2="588.95" y2="1498.5" stroke="#3c3c3c" stroke-width="3.9" />
<line x1="560.25" y1="1566.4" x2="588.95" y2="1566.4" stroke="#3c3c3c" stroke-width="3.9" />
<circle cx="183.9" cy="1461" r="6.4" fill="#d3d3d3" stroke="#111" stroke-width="1.8"/>
<circle cx="193.2" cy="1510.6" r="6.4" fill="#d3d3d3" stroke="#111" stroke-width="1.8"/>
<circle cx="193.2" cy="1550.7" r="6.4" fill="#d3d3d3" stroke="#111" stroke-width="1.8"/>
<circle cx="194.7" cy="1550" r="6.4" fill="#d3d3d3" stroke="#111" stroke-width="1.8"/>
<circle cx="186.6" cy="1592.8" r="6.4" fill="#d3d3d3" stroke="#111" stroke-width="1.8"/>
<circle cx="185.1" cy="1588.8" r="6.4" fill="#d3d3d3" stroke="#111" stroke-width="1.8"/>
<circle cx="189.5" cy="1590.6" r="6.4" fill="#d3d3d3" stroke="#111" stroke-width="1.8"/>
<circle cx="194.7" cy="1602.4" r="6.4" fill="#d3d3d3" stroke="#111" stroke-width="1.8"/>
<circle cx="185.4" cy="1619.8" r="6.4" fill="#d3d3d3" stroke="#111" stroke-width="1.8"/>
<circle cx="196.6" cy="1624.8" r="6.4" fill="#d3d3d3" stroke="#111" stroke-width="1.8"/>
<circle cx="181.4" cy="1647.4" r="6.4" fill="#d3d3d3" stroke="#111" stroke-width="1.8"/>
<circle cx="307.6" cy="1502.7" r="6.4" fill="#d3d3d3" stroke="#111" stroke-width="1.8"/>
<circle cx="309.1" cy="1502.7" r="6.4" fill="#d3d3d3" stroke="#111" stroke-width="1.8"/>
<circle cx="321.6" cy="1516" r="6.4" fill="#d3d3d3" stroke="#111" stroke-width="1.8"/>
<circle cx="315.7" cy="1515" r="6.4" fill="#d3d3d3" stroke="#111" stroke-width="1.8"/>
<circle cx="315" cy="1528.6" r="6.4" fill="#d3d3d3" stroke="#111" stroke-width="1.8"/>
<circle cx="314.7" cy="1547.7" r="6.4" fill="#d3d3d3" stroke="#111" stroke-width="1.8"/>
<circle cx="323.1" cy="1554" r="6.4" fill="#d3d3d3" stroke="#111" stroke-width="1.8"/>
<circle cx="307.6" cy="1562.5" r="6.4" fill="#d3d3d3" stroke="#111" stroke-width="1.8"/>
<circle cx="306.9" cy="1556.6" r="6.4" fill="#d3d3d3" stroke="#111" stroke-width="1.8"/>
<circle cx="306.9" cy="1578.7" r="6.4" fill="#d3d3d3" stroke="#111" stroke-width="1.8"/>
<circle cx="454.6" cy="1581.1" r="6.4" fill="#d3d3d3" stroke="#111" stroke-width="1.8"/>
<circle cx="442.2" cy="1593" r="6.4" fill="#d3d3d3" stroke="#111" stroke-width="1.8"/>
<circle cx="454.6" cy="1590" r="6.4" fill="#d3d3d3" stroke="#111" stroke-width="1.8"/>
<circle cx="463.1" cy="1587.8" r="6.4" fill="#d3d3d3" stroke="#111" stroke-width="1.8"/>
<circle cx="441" cy="1615.8" r="6.4" fill="#d3d3d3" stroke="#111" stroke-width="1.8"/>
<circle cx="455.5" cy="1620.3" r="6.4" fill="#d3d3d3" stroke="#111" stroke-width="1.8"/>
<circle cx="454.6" cy="1632.1" r="6.4" fill="#d3d3d3" stroke="#111" stroke-width="1.8"/>
<circle cx="448.7" cy="1649.8" r="6.4" fill="#d3d3d3" stroke="#111" stroke-width="1.8"/>
<circle cx="443.9" cy="1680" r="6.4" fill="#d3d3d3" stroke="#111" stroke-width="1.8"/>
<circle cx="449.6" cy="1697.7" r="6.4" fill="#d3d3d3" stroke="#111" stroke-width="1.8"/>
<circle cx="563.8" cy="1414.8" r="6.4" fill="#d3d3d3" stroke="#111" stroke-width="1.8"/>
<circle cx="582" cy="1550.1" r="6.4" fill="#d3d3d3" stroke="#111" stroke-width="1.8"/>
<circle cx="584.9" cy="1550.6" r="6.4" fill="#d3d3d3" stroke="#111" stroke-width="1.8"/>
<circle cx="584.9" cy="1614.1" r="6.4" fill="#d3d3d3" stroke="#111" stroke-width="1.8"/>
<text transform="translate(116.3,1434.28) scale(0.7950,1)" font-size="31.60" font-weight="normal" text-anchor="end" fill="#000" stroke="#000" stroke-width="0.35">200</text>
<text transform="translate(116.3,1514.32) scale(0.7950,1)" font-size="31.60" font-weight="normal" text-anchor="end" fill="#000" stroke="#000" stroke-width="0.35">150</text>
<text transform="translate(116.3,1594.36) scale(0.7950,1)" font-size="31.60" font-weight="normal" text-anchor="end" fill="#000" stroke="#000" stroke-width="0.35">100</text>
<text transform="translate(116.3,1674.4) scale(0.7950,1)" font-size="31.60" font-weight="normal" text-anchor="end" fill="#000" stroke="#000" stroke-width="0.35">50</text>
<text transform="translate(116.3,1754.44) scale(0.7950,1)" font-size="31.60" font-weight="normal" text-anchor="end" fill="#000" stroke="#000" stroke-width="0.35">0</text>
<text transform="translate(193.25,1778.7) scale(0.8040,1)" font-size="31.70" font-weight="normal" text-anchor="middle" fill="#000" stroke="#000" stroke-width="0.35">Tg344-AD</text>
<text transform="translate(316.15,1778.7) scale(0.8040,1)" font-size="31.70" font-weight="normal" text-anchor="middle" fill="#000" stroke="#000" stroke-width="0.35">Wildtype</text>
<text transform="translate(451.65,1778.7) scale(0.8040,1)" font-size="31.70" font-weight="normal" text-anchor="middle" fill="#000" stroke="#000" stroke-width="0.35">Tg344-AD</text>
<text transform="translate(574.65,1778.7) scale(0.8040,1)" font-size="31.70" font-weight="normal" text-anchor="middle" fill="#000" stroke="#000" stroke-width="0.35">Wildtype</text>
<text transform="translate(59.5,1708.52) rotate(-90) scale(0.7903,1)" font-size="45.22" font-weight="bold" fill="#000" >Exploration (sec)</text>
<polyline points="221.8,1468 306.1,1468" fill="none" stroke="#000" stroke-width="3.6" stroke-linejoin="miter" stroke-linecap="butt"/>
<polyline points="264.5,1468 264.5,1410 510.4,1410 510.4,1449.4" fill="none" stroke="#000" stroke-width="3.6" stroke-linejoin="miter" stroke-linecap="butt"/>
<polyline points="468.2,1449.4 553,1449.4" fill="none" stroke="#000" stroke-width="3.6" stroke-linejoin="miter" stroke-linecap="butt"/>
<rect x="825.2" y="1599.3" width="98.3" height="144.4" fill="#7f4098"/>
<rect x="948.1" y="1586" width="98.3" height="157.7" fill="#d3a9cc"/>
<rect x="1083.6" y="1609.2" width="98.3" height="134.5" fill="#292c73"/>
<rect x="1206.6" y="1547.2" width="98.3" height="196.5" fill="#b6c3d7"/>
<line x1="812.7" y1="1381.3" x2="812.7" y2="1746.2" stroke="#000" stroke-width="5.3" />
<line x1="803.3" y1="1743.7" x2="1061.2" y2="1743.7" stroke="#000" stroke-width="5.0" />
<line x1="1068.2" y1="1743.7" x2="1319" y2="1743.7" stroke="#000" stroke-width="5.0" />
<line x1="803.35" y1="1434.4" x2="812.7" y2="1434.4" stroke="#000" stroke-width="4.4" />
<line x1="803.35" y1="1537.5" x2="812.7" y2="1537.5" stroke="#000" stroke-width="4.4" />
<line x1="803.35" y1="1640.6" x2="812.7" y2="1640.6" stroke="#000" stroke-width="4.4" />
<line x1="803.35" y1="1743.7" x2="812.7" y2="1743.7" stroke="#000" stroke-width="4.4" />
<line x1="874.2" y1="1584.1" x2="874.2" y2="1612.1" stroke="#3c3c3c" stroke-width="4.4" />
<line x1="859.85" y1="1584.1" x2="888.55" y2="1584.1" stroke="#3c3c3c" stroke-width="3.9" />
<line x1="859.85" y1="1612.1" x2="888.55" y2="1612.1" stroke="#3c3c3c" stroke-width="3.9" />
<line x1="997.2" y1="1577.1" x2="997.2" y2="1592.9" stroke="#3c3c3c" stroke-width="4.4" />
<line x1="982.85" y1="1577.1" x2="1011.55" y2="1577.1" stroke="#3c3c3c" stroke-width="3.9" />
<line x1="982.85" y1="1592.9" x2="1011.55" y2="1592.9" stroke="#3c3c3c" stroke-width="3.9" />
<line x1="1132.8" y1="1589.6" x2="1132.8" y2="1627.3" stroke="#3c3c3c" stroke-width="4.4" />
<line x1="1118.45" y1="1589.6" x2="1147.15" y2="1589.6" stroke="#3c3c3c" stroke-width="3.9" />
<line x1="1118.45" y1="1627.3" x2="1147.15" y2="1627.3" stroke="#3c3c3c" stroke-width="3.9" />
<line x1="1255.6" y1="1513.2" x2="1255.6" y2="1580.4" stroke="#3c3c3c" stroke-width="4.4" />
<line x1="1241.25" y1="1513.2" x2="1269.95" y2="1513.2" stroke="#3c3c3c" stroke-width="3.9" />
<line x1="1241.25" y1="1580.4" x2="1269.95" y2="1580.4" stroke="#3c3c3c" stroke-width="3.9" />
<circle cx="862.9" cy="1504.8" r="6.4" fill="#d3d3d3" stroke="#111" stroke-width="1.8"/>
<circle cx="875.1" cy="1541.3" r="6.4" fill="#d3d3d3" stroke="#111" stroke-width="1.8"/>
<circle cx="882.1" cy="1557.9" r="6.4" fill="#d3d3d3" stroke="#111" stroke-width="1.8"/>
<circle cx="869.5" cy="1588" r="6.4" fill="#d3d3d3" stroke="#111" stroke-width="1.8"/>
<circle cx="875.1" cy="1598.1" r="6.4" fill="#d3d3d3" stroke="#111" stroke-width="1.8"/>
<circle cx="871.7" cy="1611.7" r="6.4" fill="#d3d3d3" stroke="#111" stroke-width="1.8"/>
<circle cx="881.3" cy="1625.4" r="6.4" fill="#d3d3d3" stroke="#111" stroke-width="1.8"/>
<circle cx="885" cy="1623.5" r="6.4" fill="#d3d3d3" stroke="#111" stroke-width="1.8"/>
<circle cx="869.2" cy="1629.8" r="6.4" fill="#d3d3d3" stroke="#111" stroke-width="1.8"/>
<circle cx="871.3" cy="1649.4" r="6.4" fill="#d3d3d3" stroke="#111" stroke-width="1.8"/>
<circle cx="879.1" cy="1656.4" r="6.4" fill="#d3d3d3" stroke="#111" stroke-width="1.8"/>
<circle cx="990.6" cy="1546.1" r="6.4" fill="#d3d3d3" stroke="#111" stroke-width="1.8"/>
<circle cx="991.7" cy="1556.8" r="6.4" fill="#d3d3d3" stroke="#111" stroke-width="1.8"/>
<circle cx="997.6" cy="1565.9" r="6.4" fill="#d3d3d3" stroke="#111" stroke-width="1.8"/>
<circle cx="986.1" cy="1571.2" r="6.4" fill="#d3d3d3" stroke="#111" stroke-width="1.8"/>
<circle cx="996.5" cy="1577.4" r="6.4" fill="#d3d3d3" stroke="#111" stroke-width="1.8"/>
<circle cx="985.4" cy="1590" r="6.4" fill="#d3d3d3" stroke="#111" stroke-width="1.8"/>
<circle cx="1007.5" cy="1589.5" r="6.4" fill="#d3d3d3" stroke="#111" stroke-width="1.8"/>
<circle cx="985" cy="1611.4" r="6.4" fill="#d3d3d3" stroke="#111" stroke-width="1.8"/>
<circle cx="1000.9" cy="1620.2" r="6.4" fill="#d3d3d3" stroke="#111" stroke-width="1.8"/>
<circle cx="1001.6" cy="1639.4" r="6.4" fill="#d3d3d3" stroke="#111" stroke-width="1.8"/>
<circle cx="1135" cy="1469" r="6.4" fill="#d3d3d3" stroke="#111" stroke-width="1.8"/>
<circle cx="1129.9" cy="1579.7" r="6.4" fill="#d3d3d3" stroke="#111" stroke-width="1.8"/>
<circle cx="1133.5" cy="1579.7" r="6.4" fill="#d3d3d3" stroke="#111" stroke-width="1.8"/>
<circle cx="1142.8" cy="1589.6" r="6.4" fill="#d3d3d3" stroke="#111" stroke-width="1.8"/>
<circle cx="1129.6" cy="1611.1" r="6.4" fill="#d3d3d3" stroke="#111" stroke-width="1.8"/>
<circle cx="1134.3" cy="1616.6" r="6.4" fill="#d3d3d3" stroke="#111" stroke-width="1.8"/>
<circle cx="1123.2" cy="1629.9" r="6.4" fill="#d3d3d3" stroke="#111" stroke-width="1.8"/>
<circle cx="1122.8" cy="1660.1" r="6.4" fill="#d3d3d3" stroke="#111" stroke-width="1.8"/>
<circle cx="1132.5" cy="1669" r="6.4" fill="#d3d3d3" stroke="#111" stroke-width="1.8"/>
<circle cx="1135.5" cy="1679.3" r="6.4" fill="#d3d3d3" stroke="#111" stroke-width="1.8"/>
<circle cx="1245.7" cy="1409.2" r="6.4" fill="#d3d3d3" stroke="#111" stroke-width="1.8"/>
<circle cx="1264.9" cy="1553.1" r="6.4" fill="#d3d3d3" stroke="#111" stroke-width="1.8"/>
<circle cx="1253.1" cy="1562.7" r="6.4" fill="#d3d3d3" stroke="#111" stroke-width="1.8"/>
<circle cx="1254.1" cy="1596.6" r="6.4" fill="#d3d3d3" stroke="#111" stroke-width="1.8"/>
<circle cx="1261.2" cy="1611.1" r="6.4" fill="#d3d3d3" stroke="#111" stroke-width="1.8"/>
<text transform="translate(797.3,1444.99) scale(0.7950,1)" font-size="31.60" font-weight="normal" text-anchor="end" fill="#000" stroke="#000" stroke-width="0.35">300</text>
<text transform="translate(797.3,1548.09) scale(0.7950,1)" font-size="31.60" font-weight="normal" text-anchor="end" fill="#000" stroke="#000" stroke-width="0.35">200</text>
<text transform="translate(797.3,1651.19) scale(0.7950,1)" font-size="31.60" font-weight="normal" text-anchor="end" fill="#000" stroke="#000" stroke-width="0.35">100</text>
<text transform="translate(797.3,1754.29) scale(0.7950,1)" font-size="31.60" font-weight="normal" text-anchor="end" fill="#000" stroke="#000" stroke-width="0.35">0</text>
<text transform="translate(877.25,1778.7) scale(0.8040,1)" font-size="31.70" font-weight="normal" text-anchor="middle" fill="#000" stroke="#000" stroke-width="0.35">Tg344-AD</text>
<text transform="translate(1000.15,1778.7) scale(0.8040,1)" font-size="31.70" font-weight="normal" text-anchor="middle" fill="#000" stroke="#000" stroke-width="0.35">Wildtype</text>
<text transform="translate(1135.65,1778.7) scale(0.8040,1)" font-size="31.70" font-weight="normal" text-anchor="middle" fill="#000" stroke="#000" stroke-width="0.35">Tg344-AD</text>
<text transform="translate(1258.65,1778.7) scale(0.8040,1)" font-size="31.70" font-weight="normal" text-anchor="middle" fill="#000" stroke="#000" stroke-width="0.35">Wildtype</text>
<text transform="translate(662.26,1396.5) scale(0.9295,1)" font-size="78.41" font-weight="bold" fill="#000" >H</text>
<text transform="translate(733,1708.51) rotate(-90) scale(0.7831,1)" font-size="45.36" font-weight="bold" fill="#000" >Exploration (sec)</text>
<polyline points="895.2,1505.4 979.9,1505.4" fill="none" stroke="#000" stroke-width="3.6" stroke-linejoin="miter" stroke-linecap="butt"/>
<polyline points="938,1505.4 938,1447 1184,1447 1184,1486.4" fill="none" stroke="#000" stroke-width="3.6" stroke-linejoin="miter" stroke-linecap="butt"/>
<polyline points="1143.3,1486.4 1226.5,1486.4" fill="none" stroke="#000" stroke-width="3.6" stroke-linejoin="miter" stroke-linecap="butt"/>
<rect x="143.9" y="1999.2" width="98.3" height="10.65" fill="#7f4098"/>
<rect x="266.8" y="1985.6" width="98.3" height="24.25" fill="#d3a9cc"/>
<rect x="402.3" y="1991.3" width="98.3" height="18.55" fill="#292c73"/>
<rect x="525.3" y="2009.85" width="98.3" height="5.05" fill="#b6c3d7"/>
<line x1="131.7" y1="1827.6" x2="131.7" y2="2191.55" stroke="#000" stroke-width="5.3" />
<line x1="122.2" y1="2189.05" x2="380.5" y2="2189.05" stroke="#000" stroke-width="5.0" />
<line x1="387.5" y1="2189.05" x2="638.6" y2="2189.05" stroke="#000" stroke-width="5.0" />
<line x1="122.35" y1="1829.73" x2="131.7" y2="1829.73" stroke="#000" stroke-width="4.4" />
<line x1="122.35" y1="1919.56" x2="131.7" y2="1919.56" stroke="#000" stroke-width="4.4" />
<line x1="122.35" y1="2009.4" x2="131.7" y2="2009.4" stroke="#000" stroke-width="4.4" />
<line x1="122.35" y1="2099.24" x2="131.7" y2="2099.24" stroke="#000" stroke-width="4.4" />
<line x1="122.35" y1="2189.08" x2="131.7" y2="2189.08" stroke="#000" stroke-width="4.4" />
<line x1="193.05" y1="2189.05" x2="193.05" y2="2198.25" stroke="#000" stroke-width="4.4" />
<line x1="315.95" y1="2189.05" x2="315.95" y2="2198.25" stroke="#000" stroke-width="4.4" />
<line x1="451.45" y1="2189.05" x2="451.45" y2="2198.25" stroke="#000" stroke-width="4.4" />
<line x1="574.45" y1="2189.05" x2="574.45" y2="2198.25" stroke="#000" stroke-width="4.4" />
<line x1="193.2" y1="1976.8" x2="193.2" y2="2019.6" stroke="#3c3c3c" stroke-width="4.4" />
<line x1="178.85" y1="1976.8" x2="207.55" y2="1976.8" stroke="#3c3c3c" stroke-width="3.9" />
<line x1="178.85" y1="2019.6" x2="207.55" y2="2019.6" stroke="#3c3c3c" stroke-width="3.9" />
<line x1="317.6" y1="1974.5" x2="317.6" y2="1997.4" stroke="#3c3c3c" stroke-width="4.4" />
<line x1="303.25" y1="1974.5" x2="331.95" y2="1974.5" stroke="#3c3c3c" stroke-width="3.9" />
<line x1="303.25" y1="1997.4" x2="331.95" y2="1997.4" stroke="#3c3c3c" stroke-width="3.9" />
<line x1="452.1" y1="1966.6" x2="452.1" y2="2015.6" stroke="#3c3c3c" stroke-width="4.4" />
<line x1="437.75" y1="1966.6" x2="466.45" y2="1966.6" stroke="#3c3c3c" stroke-width="3.9" />
<line x1="437.75" y1="2015.6" x2="466.45" y2="2015.6" stroke="#3c3c3c" stroke-width="3.9" />
<line x1="574.6" y1="1975.8" x2="574.6" y2="2055.2" stroke="#3c3c3c" stroke-width="4.4" />
<line x1="560.25" y1="1975.8" x2="588.95" y2="1975.8" stroke="#3c3c3c" stroke-width="3.9" />
<line x1="560.25" y1="2055.2" x2="588.95" y2="2055.2" stroke="#3c3c3c" stroke-width="3.9" />
<line x1="131.7" y1="2009.85" x2="380.5" y2="2009.85" stroke="#000" stroke-width="4.8" stroke-dasharray="16.6 8.1"/>
<line x1="390.7" y1="2009.85" x2="638.6" y2="2009.85" stroke="#000" stroke-width="4.8" stroke-dasharray="16.6 8.1"/>
<circle cx="181.8" cy="1929.5" r="6.4" fill="#d3d3d3" stroke="#111" stroke-width="1.8"/>
<circle cx="186.6" cy="1924.8" r="6.4" fill="#d3d3d3" stroke="#111" stroke-width="1.8"/>
<circle cx="192.5" cy="1920.7" r="6.4" fill="#d3d3d3" stroke="#111" stroke-width="1.8"/>
<circle cx="181.4" cy="1986.3" r="6.4" fill="#d3d3d3" stroke="#111" stroke-width="1.8"/>
<circle cx="201" cy="1981.9" r="6.4" fill="#d3d3d3" stroke="#111" stroke-width="1.8"/>
<circle cx="186.9" cy="2018.1" r="6.4" fill="#d3d3d3" stroke="#111" stroke-width="1.8"/>
<circle cx="203.1" cy="2018.1" r="6.4" fill="#d3d3d3" stroke="#111" stroke-width="1.8"/>
<circle cx="192.8" cy="2079.3" r="6.4" fill="#d3d3d3" stroke="#111" stroke-width="1.8"/>
<circle cx="181.8" cy="2097.8" r="6.4" fill="#d3d3d3" stroke="#111" stroke-width="1.8"/>
<circle cx="202.5" cy="2100.7" r="6.4" fill="#d3d3d3" stroke="#111" stroke-width="1.8"/>
<circle cx="315.7" cy="1935.7" r="6.4" fill="#d3d3d3" stroke="#111" stroke-width="1.8"/>
<circle cx="308.3" cy="1953.9" r="6.4" fill="#d3d3d3" stroke="#111" stroke-width="1.8"/>
<circle cx="313.5" cy="1952.4" r="6.4" fill="#d3d3d3" stroke="#111" stroke-width="1.8"/>
<circle cx="323.8" cy="1952.8" r="6.4" fill="#d3d3d3" stroke="#111" stroke-width="1.8"/>
<circle cx="307.6" cy="1960.8" r="6.4" fill="#d3d3d3" stroke="#111" stroke-width="1.8"/>
<circle cx="303.9" cy="1977.5" r="6.4" fill="#d3d3d3" stroke="#111" stroke-width="1.8"/>
<circle cx="305.4" cy="1996.2" r="6.4" fill="#d3d3d3" stroke="#111" stroke-width="1.8"/>
<circle cx="315" cy="2010.7" r="6.4" fill="#d3d3d3" stroke="#111" stroke-width="1.8"/>
<circle cx="321.6" cy="2012.9" r="6.4" fill="#d3d3d3" stroke="#111" stroke-width="1.8"/>
<circle cx="314.7" cy="2023.2" r="6.4" fill="#d3d3d3" stroke="#111" stroke-width="1.8"/>
<circle cx="317.2" cy="2058.7" r="6.4" fill="#d3d3d3" stroke="#111" stroke-width="1.8"/>
<circle cx="455.5" cy="1861" r="6.4" fill="#d3d3d3" stroke="#111" stroke-width="1.8"/>
<circle cx="447.6" cy="1871.3" r="6.4" fill="#d3d3d3" stroke="#111" stroke-width="1.8"/>
<circle cx="445.4" cy="1967.7" r="6.4" fill="#d3d3d3" stroke="#111" stroke-width="1.8"/>
<circle cx="441" cy="1975.1" r="6.4" fill="#d3d3d3" stroke="#111" stroke-width="1.8"/>
<circle cx="449.9" cy="1993.5" r="6.4" fill="#d3d3d3" stroke="#111" stroke-width="1.8"/>
<circle cx="446.6" cy="1999.1" r="6.4" fill="#d3d3d3" stroke="#111" stroke-width="1.8"/>
<circle cx="455" cy="2010.5" r="6.4" fill="#d3d3d3" stroke="#111" stroke-width="1.8"/>
<circle cx="451.6" cy="2046.3" r="6.4" fill="#d3d3d3" stroke="#111" stroke-width="1.8"/>
<circle cx="462.8" cy="2046.9" r="6.4" fill="#d3d3d3" stroke="#111" stroke-width="1.8"/>
<circle cx="451.3" cy="2138.9" r="6.4" fill="#d3d3d3" stroke="#111" stroke-width="1.8"/>
<circle cx="581.5" cy="1884.3" r="6.4" fill="#d3d3d3" stroke="#111" stroke-width="1.8"/>
<circle cx="566.2" cy="2035.1" r="6.4" fill="#d3d3d3" stroke="#111" stroke-width="1.8"/>
<circle cx="570.6" cy="2043.4" r="6.4" fill="#d3d3d3" stroke="#111" stroke-width="1.8"/>
<circle cx="572.7" cy="2099.8" r="6.4" fill="#d3d3d3" stroke="#111" stroke-width="1.8"/>
<text transform="translate(116.7,1840.31) scale(0.7950,1)" font-size="31.60" font-weight="normal" text-anchor="end" fill="#000" stroke="#000" stroke-width="0.35">1.0</text>
<text transform="translate(116.7,1930.15) scale(0.7950,1)" font-size="31.60" font-weight="normal" text-anchor="end" fill="#000" stroke="#000" stroke-width="0.35">0.5</text>
<text transform="translate(116.7,2019.99) scale(0.7950,1)" font-size="31.60" font-weight="normal" text-anchor="end" fill="#000" stroke="#000" stroke-width="0.35">0.0</text>
<text transform="translate(116.7,2109.82) scale(0.7950,1)" font-size="31.60" font-weight="normal" text-anchor="end" fill="#000" stroke="#000" stroke-width="0.35">&#8722;0.5</text>
<text transform="translate(116.7,2199.66) scale(0.7950,1)" font-size="31.60" font-weight="normal" text-anchor="end" fill="#000" stroke="#000" stroke-width="0.35">&#8722;1.0</text>
<text transform="translate(193.05,2226.3) scale(0.8040,1)" font-size="31.70" font-weight="normal" text-anchor="middle" fill="#000" stroke="#000" stroke-width="0.35">Tg344-AD</text>
<text transform="translate(315.95,2226.3) scale(0.8040,1)" font-size="31.70" font-weight="normal" text-anchor="middle" fill="#000" stroke="#000" stroke-width="0.35">Wildtype</text>
<text transform="translate(451.45,2226.3) scale(0.8040,1)" font-size="31.70" font-weight="normal" text-anchor="middle" fill="#000" stroke="#000" stroke-width="0.35">Tg344-AD</text>
<text transform="translate(574.45,2226.3) scale(0.8040,1)" font-size="31.70" font-weight="normal" text-anchor="middle" fill="#000" stroke="#000" stroke-width="0.35">Wildtype</text>
<text transform="translate(59.4,2254.72) rotate(-90) scale(0.7881,1)" font-size="45.07" font-weight="bold" fill="#000" >Object-in-place memory</text>
<text transform="translate(183.28,2281) scale(0.7932,1)" font-size="44.93" font-weight="bold" fill="#000" >Females</text>
<text transform="translate(463.29,2280.9) scale(0.7921,1)" font-size="44.93" font-weight="bold" fill="#000" >Males</text>
<rect x="824.8" y="1940.4" width="98.3" height="69.4" fill="#7f4098"/>
<rect x="947.7" y="1958.2" width="98.3" height="51.6" fill="#d3a9cc"/>
<rect x="1083.2" y="2009.8" width="98.3" height="22.2" fill="#292c73"/>
<rect x="1206.2" y="2009.8" width="98.3" height="33.7" fill="#b6c3d7"/>
<line x1="812.85" y1="1827.4" x2="812.85" y2="2191.65" stroke="#000" stroke-width="5.3" />
<line x1="803.3" y1="2189.15" x2="1061.2" y2="2189.15" stroke="#000" stroke-width="5.0" />
<line x1="1068.2" y1="2189.15" x2="1319" y2="2189.15" stroke="#000" stroke-width="5.0" />
<line x1="803.5" y1="1829.03" x2="812.85" y2="1829.03" stroke="#000" stroke-width="4.4" />
<line x1="803.5" y1="1919.06" x2="812.85" y2="1919.06" stroke="#000" stroke-width="4.4" />
<line x1="803.5" y1="2009.1" x2="812.85" y2="2009.1" stroke="#000" stroke-width="4.4" />
<line x1="803.5" y1="2099.13" x2="812.85" y2="2099.13" stroke="#000" stroke-width="4.4" />
<line x1="803.5" y1="2189.17" x2="812.85" y2="2189.17" stroke="#000" stroke-width="4.4" />
<line x1="873.95" y1="2189.15" x2="873.95" y2="2198.35" stroke="#000" stroke-width="4.4" />
<line x1="996.85" y1="2189.15" x2="996.85" y2="2198.35" stroke="#000" stroke-width="4.4" />
<line x1="1132.35" y1="2189.15" x2="1132.35" y2="2198.35" stroke="#000" stroke-width="4.4" />
<line x1="1255.35" y1="2189.15" x2="1255.35" y2="2198.35" stroke="#000" stroke-width="4.4" />
<line x1="874.2" y1="1922.7" x2="874.2" y2="1954.5" stroke="#3c3c3c" stroke-width="4.4" />
<line x1="859.85" y1="1922.7" x2="888.55" y2="1922.7" stroke="#3c3c3c" stroke-width="3.9" />
<line x1="859.85" y1="1954.5" x2="888.55" y2="1954.5" stroke="#3c3c3c" stroke-width="3.9" />
<line x1="997.6" y1="1945.9" x2="997.6" y2="1966.3" stroke="#3c3c3c" stroke-width="4.4" />
<line x1="983.25" y1="1945.9" x2="1011.95" y2="1945.9" stroke="#3c3c3c" stroke-width="3.9" />
<line x1="983.25" y1="1966.3" x2="1011.95" y2="1966.3" stroke="#3c3c3c" stroke-width="3.9" />
<line x1="1132.5" y1="2013.2" x2="1132.5" y2="2050.6" stroke="#3c3c3c" stroke-width="4.4" />
<line x1="1118.15" y1="2013.2" x2="1146.85" y2="2013.2" stroke="#3c3c3c" stroke-width="3.9" />
<line x1="1118.15" y1="2050.6" x2="1146.85" y2="2050.6" stroke="#3c3c3c" stroke-width="3.9" />
<line x1="1255.6" y1="2000" x2="1255.6" y2="2087" stroke="#3c3c3c" stroke-width="4.4" />
<line x1="1241.25" y1="2000" x2="1269.95" y2="2000" stroke="#3c3c3c" stroke-width="3.9" />
<line x1="1241.25" y1="2087" x2="1269.95" y2="2087" stroke="#3c3c3c" stroke-width="3.9" />
<line x1="812.85" y1="2009.8" x2="1061.2" y2="2009.8" stroke="#000" stroke-width="4.8" stroke-dasharray="16.6 8.1"/>
<line x1="1071.4" y1="2009.8" x2="1319" y2="2009.8" stroke="#000" stroke-width="4.8" stroke-dasharray="16.6 8.1"/>
<circle cx="869.1" cy="1872.1" r="6.4" fill="#d3d3d3" stroke="#111" stroke-width="1.8"/>
<circle cx="868" cy="1889.2" r="6.4" fill="#d3d3d3" stroke="#111" stroke-width="1.8"/>
<circle cx="871.7" cy="1902.1" r="6.4" fill="#d3d3d3" stroke="#111" stroke-width="1.8"/>
<circle cx="876.9" cy="1898.7" r="6.4" fill="#d3d3d3" stroke="#111" stroke-width="1.8"/>
<circle cx="871.7" cy="1909.4" r="6.4" fill="#d3d3d3" stroke="#111" stroke-width="1.8"/>
<circle cx="864.8" cy="1919" r="6.4" fill="#d3d3d3" stroke="#111" stroke-width="1.8"/>
<circle cx="879.1" cy="1955.2" r="6.4" fill="#d3d3d3" stroke="#111" stroke-width="1.8"/>
<circle cx="885.8" cy="1965.5" r="6.4" fill="#d3d3d3" stroke="#111" stroke-width="1.8"/>
<circle cx="877.2" cy="1967.7" r="6.4" fill="#d3d3d3" stroke="#111" stroke-width="1.8"/>
<circle cx="878.4" cy="1989.2" r="6.4" fill="#d3d3d3" stroke="#111" stroke-width="1.8"/>
<circle cx="878.1" cy="2068.9" r="6.4" fill="#d3d3d3" stroke="#111" stroke-width="1.8"/>
<circle cx="1006" cy="1881.8" r="6.4" fill="#d3d3d3" stroke="#111" stroke-width="1.8"/>
<circle cx="1003.5" cy="1932" r="6.4" fill="#d3d3d3" stroke="#111" stroke-width="1.8"/>
<circle cx="989.8" cy="1939" r="6.4" fill="#d3d3d3" stroke="#111" stroke-width="1.8"/>
<circle cx="998.2" cy="1940.9" r="6.4" fill="#d3d3d3" stroke="#111" stroke-width="1.8"/>
<circle cx="985.4" cy="1965.1" r="6.4" fill="#d3d3d3" stroke="#111" stroke-width="1.8"/>
<circle cx="984.6" cy="1961.8" r="6.4" fill="#d3d3d3" stroke="#111" stroke-width="1.8"/>
<circle cx="994.2" cy="1970.7" r="6.4" fill="#d3d3d3" stroke="#111" stroke-width="1.8"/>
<circle cx="1009.4" cy="1967" r="6.4" fill="#d3d3d3" stroke="#111" stroke-width="1.8"/>
<circle cx="1003.5" cy="2017.2" r="6.4" fill="#d3d3d3" stroke="#111" stroke-width="1.8"/>
<circle cx="1001.2" cy="2022.4" r="6.4" fill="#d3d3d3" stroke="#111" stroke-width="1.8"/>
<circle cx="1122.8" cy="1930.6" r="6.4" fill="#d3d3d3" stroke="#111" stroke-width="1.8"/>
<circle cx="1143.6" cy="1963.5" r="6.4" fill="#d3d3d3" stroke="#111" stroke-width="1.8"/>
<circle cx="1124.2" cy="1993.3" r="6.4" fill="#d3d3d3" stroke="#111" stroke-width="1.8"/>
<circle cx="1123.2" cy="2001.4" r="6.4" fill="#d3d3d3" stroke="#111" stroke-width="1.8"/>
<circle cx="1135" cy="2022.1" r="6.4" fill="#d3d3d3" stroke="#111" stroke-width="1.8"/>
<circle cx="1135.8" cy="2050.1" r="6.4" fill="#d3d3d3" stroke="#111" stroke-width="1.8"/>
<circle cx="1140.9" cy="2079.7" r="6.4" fill="#d3d3d3" stroke="#111" stroke-width="1.8"/>
<circle cx="1136.9" cy="2084.1" r="6.4" fill="#d3d3d3" stroke="#111" stroke-width="1.8"/>
<circle cx="1132.5" cy="2115.1" r="6.4" fill="#d3d3d3" stroke="#111" stroke-width="1.8"/>
<circle cx="1250.9" cy="1910.7" r="6.4" fill="#d3d3d3" stroke="#111" stroke-width="1.8"/>
<circle cx="1252.8" cy="1980.8" r="6.4" fill="#d3d3d3" stroke="#111" stroke-width="1.8"/>
<circle cx="1262" cy="2028" r="6.4" fill="#d3d3d3" stroke="#111" stroke-width="1.8"/>
<circle cx="1256.8" cy="2127.9" r="6.4" fill="#d3d3d3" stroke="#111" stroke-width="1.8"/>
<circle cx="1265.4" cy="2168.7" r="6.4" fill="#d3d3d3" stroke="#111" stroke-width="1.8"/>
<text transform="translate(797.7,1839.62) scale(0.7950,1)" font-size="31.60" font-weight="normal" text-anchor="end" fill="#000" stroke="#000" stroke-width="0.35">1.0</text>
<text transform="translate(797.7,1929.65) scale(0.7950,1)" font-size="31.60" font-weight="normal" text-anchor="end" fill="#000" stroke="#000" stroke-width="0.35">0.5</text>
<text transform="translate(797.7,2019.69) scale(0.7950,1)" font-size="31.60" font-weight="normal" text-anchor="end" fill="#000" stroke="#000" stroke-width="0.35">0.0</text>
<text transform="translate(797.7,2109.72) scale(0.7950,1)" font-size="31.60" font-weight="normal" text-anchor="end" fill="#000" stroke="#000" stroke-width="0.35">&#8722;0.5</text>
<text transform="translate(797.7,2199.76) scale(0.7950,1)" font-size="31.60" font-weight="normal" text-anchor="end" fill="#000" stroke="#000" stroke-width="0.35">&#8722;1.0</text>
<text transform="translate(873.75,2226.3) scale(0.8040,1)" font-size="31.70" font-weight="normal" text-anchor="middle" fill="#000" stroke="#000" stroke-width="0.35">Tg344-AD</text>
<text transform="translate(996.65,2226.3) scale(0.8040,1)" font-size="31.70" font-weight="normal" text-anchor="middle" fill="#000" stroke="#000" stroke-width="0.35">Wildtype</text>
<text transform="translate(1132.15,2226.3) scale(0.8040,1)" font-size="31.70" font-weight="normal" text-anchor="middle" fill="#000" stroke="#000" stroke-width="0.35">Tg344-AD</text>
<text transform="translate(1255.15,2226.3) scale(0.8040,1)" font-size="31.70" font-weight="normal" text-anchor="middle" fill="#000" stroke="#000" stroke-width="0.35">Wildtype</text>
<text transform="translate(732.7,2286.62) rotate(-90) scale(0.7809,1)" font-size="45.51" font-weight="bold" fill="#000" >Object recognition memory</text>
<line x1="1323.8" y1="1942.1" x2="1323.8" y2="2033" stroke="#000" stroke-width="3.8" />
<text transform="translate(864.49,2281) scale(0.7926,1)" font-size="44.93" font-weight="bold" fill="#000" >Females</text>
<text transform="translate(1144.69,2280.9) scale(0.7921,1)" font-size="44.93" font-weight="bold" fill="#000" >Males</text>
<text transform="translate(6.2,1057.7) scale(0.9663,1)" font-size="76.38" font-weight="bold" fill="#000" >E</text>
<text transform="translate(142.07,1046.2) scale(1.0356,1)" font-size="41.45" font-weight="normal" fill="#000" stroke="#000" stroke-width="0.8">Habituation to open field</text>
<path d="M170.3,1088.9 L170.6,1072.8 Q170.6,1068.8 174.6,1068.8 L555.6,1068.8 Q559.6,1068.8 559.6,1072.8 L559.9,1088.9" fill="none" stroke="#000" stroke-width="3.8"/>
<rect x="199.95" y="1117.95" width="151" height="143.25" fill="none" stroke="#000" stroke-width="3.5"/>
<rect x="395.15" y="1117.95" width="150.7" height="143.25" fill="none" stroke="#000" stroke-width="3.5"/>
<rect x="690.85" y="1117.95" width="150.1" height="143.25" fill="none" stroke="#000" stroke-width="3.5"/>
<rect x="885.75" y="1117.95" width="150.2" height="143.25" fill="none" stroke="#000" stroke-width="3.5"/>
<rect x="1080.45" y="1117.95" width="150.75" height="143.25" fill="none" stroke="#000" stroke-width="3.5"/>
<text transform="translate(706.77,1046.5) scale(1.1115,1)" font-size="38.55" font-weight="normal" fill="#000" stroke="#000" stroke-width="0.8">Object-in-place</text>
<path d="M700.3,1078.6 L700.6,1062.9 Q700.6,1058.9 704.6,1058.9 L999.8,1058.9 Q1003.8,1058.9 1003.8,1062.9 L1004.1,1078.6" fill="none" stroke="#000" stroke-width="3.8"/>
<text transform="translate(710.58,1104) scale(1.0083,1)" font-size="41.59" font-weight="bold" fill="#000" >Train</text>
<text transform="translate(916.37,1104) scale(1.0328,1)" font-size="41.59" font-weight="bold" fill="#000" >Test</text>
<text transform="translate(695.01,1155) scale(1.1103,1)" font-size="46.38" font-weight="bold" fill="#000" >A</text>
<text transform="translate(694.3,1253.3) scale(1.1807,1)" font-size="43.04" font-weight="bold" fill="#000" >B</text>
<text transform="translate(891.18,1155) scale(1.1425,1)" font-size="46.38" font-weight="bold" fill="#000" >A</text>
<text transform="translate(982.2,1253.3) scale(1.1807,1)" font-size="43.04" font-weight="bold" fill="#000" >B</text>
<text transform="translate(1085.35,1155.04) scale(1.0640,1)" font-size="45.77" font-weight="bold" fill="#000" >C</text>
<text transform="translate(1186.7,1253.3) scale(1.1807,1)" font-size="43.04" font-weight="bold" fill="#000" >B</text>
<text transform="translate(914.18,1304.6) scale(1.0093,1)" font-size="41.59" font-weight="bold" fill="#000" >Train</text>
<text transform="translate(1117.87,1304.6) scale(1.0316,1)" font-size="41.59" font-weight="bold" fill="#000" >Test</text>
<path d="M912.3,1296.7 L912.6,1311.3 Q912.6,1315.3 916.6,1315.3 L1213.2,1315.3 Q1217.2,1315.3 1217.2,1311.3 L1217.5,1296.7" fill="none" stroke="#000" stroke-width="3.8"/>
<text transform="translate(890.57,1354.2) scale(1.1165,1)" font-size="38.41" font-weight="normal" fill="#000" stroke="#000" stroke-width="0.8">Object recognition</text>
<text transform="translate(679.51,291.54) rotate(-90) scale(1.0314,1)" font-size="28.73" font-weight="bold" fill="#000" >sex</text>
<text transform="translate(691.71,320.29) rotate(-90) scale(0.9339,1)" font-size="39.73" font-weight="bold" fill="#000" >*</text>
<text transform="translate(679.61,641.34) rotate(-90) scale(1.0249,1)" font-size="28.91" font-weight="bold" fill="#000" >sex</text>
<text transform="translate(691.71,670.29) rotate(-90) scale(0.9671,1)" font-size="39.73" font-weight="bold" fill="#000" >*</text>
<text transform="translate(1350.3,244.84) rotate(-90) scale(1.0019,1)" font-size="29.64" font-weight="bold" fill="#000" >sex</text>
<text transform="translate(1362.58,271.87) rotate(-90) scale(1.0400,1)" font-size="38.38" font-weight="bold" fill="#000" >*</text>
<text transform="translate(1362.58,288.03) rotate(-90) scale(1.0400,1)" font-size="38.38" font-weight="bold" fill="#000" >*</text>
<text transform="translate(1362.58,304.2) rotate(-90) scale(1.0400,1)" font-size="38.38" font-weight="bold" fill="#000" >*</text>
<text transform="translate(1348.21,1980.04) rotate(-90) scale(1.0271,1)" font-size="28.91" font-weight="bold" fill="#000" >sex</text>
<text transform="translate(1359.79,2008.57) rotate(-90) scale(1.0473,1)" font-size="38.11" font-weight="bold" fill="#000" >*</text>
<text transform="translate(1359.79,2024.73) rotate(-90) scale(1.0473,1)" font-size="38.11" font-weight="bold" fill="#000" >*</text>
<text transform="translate(1359.79,2040.9) rotate(-90) scale(1.0473,1)" font-size="38.11" font-weight="bold" fill="#000" >*</text>
<text transform="translate(929.41,133.48) scale(1.0011,1)" font-size="38.38" font-weight="bold" fill="#000" >*</text>
<text transform="translate(317.5,482.49) scale(1.0427,1)" font-size="38.11" font-weight="bold" fill="#000" >*</text>
<text transform="translate(345.7,470.11) scale(1.0307,1)" font-size="29.02" font-weight="bold" fill="#000" >genotype</text>
<text transform="translate(991.9,504.07) scale(1.0282,1)" font-size="38.65" font-weight="bold" fill="#000" >*</text>
<text transform="translate(1019.7,491.17) scale(0.9778,1)" font-size="30.64" font-weight="bold" fill="#000" >genotype</text>
<text transform="translate(285.21,1407.53) scale(0.9759,1)" font-size="39.46" font-weight="bold" fill="#444" >*</text>
<text transform="translate(301.84,1407.53) scale(0.9759,1)" font-size="39.46" font-weight="bold" fill="#444" >*</text>
<text transform="translate(318.47,1407.53) scale(0.9759,1)" font-size="39.46" font-weight="bold" fill="#444" >*</text>
<text transform="translate(345.91,1393.37) scale(0.9740,1)" font-size="30.64" font-weight="bold" fill="#000" >genotype</text>
<text transform="translate(990.51,1445.31) scale(1.0224,1)" font-size="37.84" font-weight="bold" fill="#444" >*</text>
<text transform="translate(1018.71,1431.64) scale(0.9711,1)" font-size="30.75" font-weight="bold" fill="#000" >genotype</text>
<text transform="translate(7.37,1367.1) scale(0.9249,1)" font-size="76.96" font-weight="bold" fill="#000" >F</text>
<text transform="translate(12.01,1808.72) scale(0.9606,1)" font-size="77.89" font-weight="bold" fill="#000" >G</text>
<rect x="666.8" y="1754.2" width="10.6" height="53.6" fill="#000"/>
</svg></body></html>
